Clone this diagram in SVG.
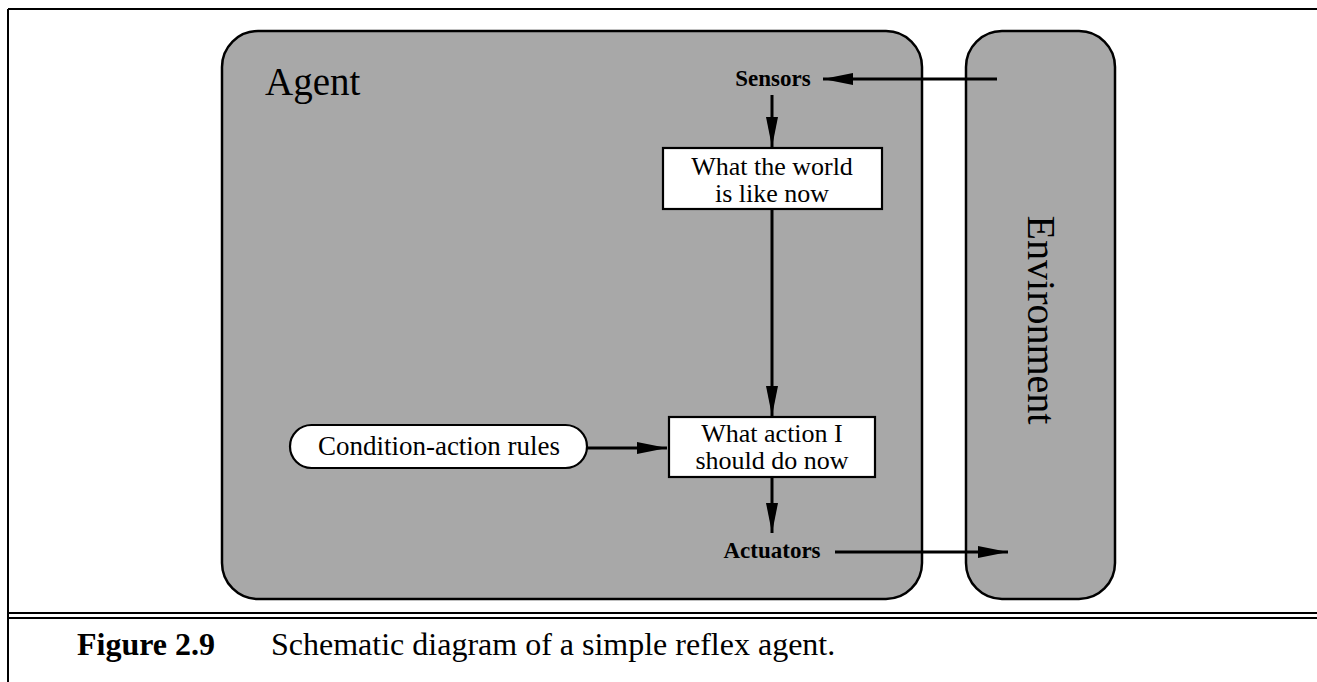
<svg xmlns="http://www.w3.org/2000/svg" width="1317" height="682" viewBox="0 0 1317 682">
<defs>
<style>
.frame{stroke:#000;stroke-width:2;fill:none}
.region{fill:#a8a8a8;stroke:#000;stroke-width:2.5}
.box{fill:#fff;stroke:#000;stroke-width:2.2}
.t{font-family:"Liberation Serif","Times New Roman",serif;fill:#000}
.lbl{font-size:26px;text-anchor:middle}
.io{font-size:23px;font-weight:bold;text-anchor:middle}
.conn{stroke:#000;stroke-width:3;fill:none}
</style>
<marker id="ah" viewBox="0 0 30 12" refX="30" refY="6" markerWidth="30" markerHeight="12" markerUnits="userSpaceOnUse" orient="auto">
<path d="M0,0 L30,6 L0,12 z" fill="#000"/>
</marker>
</defs>
<rect width="1317" height="682" fill="#fff"/>
<g id="frame">
<line class="frame" x1="8" y1="9" x2="1317" y2="9"/>
<line class="frame" x1="8" y1="9" x2="8" y2="682"/>
<line class="frame" x1="8" y1="613" x2="1317" y2="613"/>
<line class="frame" x1="8" y1="618" x2="1317" y2="618"/>
</g>
<g id="agent">
<rect class="region" x="222" y="31" width="700" height="568" rx="36" ry="36"/>
<text class="t" x="265" y="95" font-size="39">Agent</text>
</g>
<g id="environment">
<rect class="region" x="966" y="31" width="149" height="568" rx="36" ry="36"/>
<text class="t" transform="translate(1028,320) rotate(90)" font-size="40" text-anchor="middle">Environment</text>
</g>
<g id="sensors">
<text class="t io" x="773" y="86">Sensors</text>
</g>
<g id="actuators">
<text class="t io" x="772" y="558">Actuators</text>
</g>
<g id="world-now">
<rect class="box" x="663" y="148" width="219" height="61"/>
<text class="t lbl" x="772" y="175">What the world</text>
<text class="t lbl" x="772" y="202">is like now</text>
</g>
<g id="action-now">
<rect class="box" x="669" y="417" width="206" height="60"/>
<text class="t lbl" x="772" y="442">What action I</text>
<text class="t lbl" x="772" y="469">should do now</text>
</g>
<g id="rules">
<rect class="box" x="290" y="425" width="297" height="43" rx="21.5" ry="21.5"/>
<text class="t" x="439" y="455" font-size="27" text-anchor="middle">Condition-action rules</text>
</g>
<g id="connectors">
<line class="conn" x1="997" y1="79" x2="823" y2="79" marker-end="url(#ah)"/>
<line class="conn" x1="772" y1="95" x2="772" y2="147" marker-end="url(#ah)"/>
<line class="conn" x1="772" y1="209" x2="772" y2="416" marker-end="url(#ah)"/>
<line class="conn" x1="587" y1="448" x2="667" y2="448" marker-end="url(#ah)"/>
<line class="conn" x1="772" y1="477" x2="772" y2="533" marker-end="url(#ah)"/>
<line class="conn" x1="835" y1="552" x2="1008" y2="552" marker-end="url(#ah)"/>
</g>
<g id="caption">
<text class="t" x="77" y="655" font-size="32" font-weight="bold">Figure 2.9</text>
<text class="t" x="271" y="655" font-size="32">Schematic diagram of a simple reflex agent.</text>
</g>
</svg>
